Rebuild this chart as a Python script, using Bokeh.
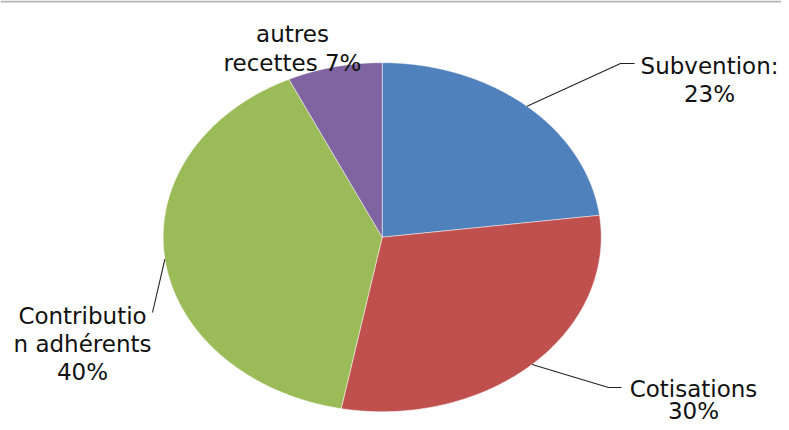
import numpy as np
from bokeh.plotting import figure
from bokeh.models import Range1d, Span, ColumnDataSource
from bokeh.core.properties import value
from bokeh.embed import file_html
from bokeh.resources import INLINE

# ---- data ----
categories = ["Subvention:", "Cotisations", "Contribution adhérents", "autres recettes"]
percents = [23, 30, 40, 7]
colors = ["#4F81BD", "#C0504D", "#9BBB59", "#8064A2"]
# label text lines (wrapped as in the picture)
label_lines = [
    ["Subvention:", "23%"],
    ["Cotisations", "30%"],
    ["Contributio", "n adhérents", "40%"],
    ["autres", "recettes 7%"],
]

# ---- layout (pixel space of the picture) ----
CX, CY, RX, RY = 381.7, 236.7, 219.0, 174.5
label_pos = [  # (center x, first baseline, line step)
    (709, 65, 28),
    (693, 388, 22),
    (82, 315, 28),
    (292, 33, 29),
]
leader_elbows = [
    [(620, 63), (634, 63)],
    [(608, 387), (621, 387)],
    [(152, 312)],
    None,
]

p = figure(width=781, height=422, x_range=Range1d(0, 781), y_range=Range1d(422, 0),
           output_backend="svg", toolbar_location=None, min_border=0)
p.axis.visible = False
p.grid.visible = False
p.outline_line_color = None
p.background_fill_color = "white"
p.border_fill_color = "white"

total = float(sum(percents))
fr = np.cumsum([0] + percents) / total
xs, ys = [], []
for i in range(len(percents)):
    th = np.linspace(fr[i], fr[i + 1], 200) * 2 * np.pi
    xs.append([CX] + list(CX + RX * np.sin(th)) + [CX])
    ys.append([CY] + list(CY - RY * np.cos(th)) + [CY])
src = ColumnDataSource(dict(xs=xs, ys=ys, color=colors, cat=categories))
p.patches("xs", "ys", fill_color="color", line_color="white", line_width=0.8,
          line_alpha=0.6, source=src)

# leader lines from slice mid-angles
for i, elb in enumerate(leader_elbows):
    if not elb:
        continue
    mid = (fr[i] + fr[i + 1]) / 2 * 2 * np.pi
    sx, sy = CX + RX * np.sin(mid), CY - RY * np.cos(mid)
    lx = [sx] + [e[0] for e in elb]
    ly = [sy] + [e[1] for e in elb]
    p.line(lx, ly, line_color="#222222", line_width=1.1)

# labels
tx, ty, tt = [], [], []
for lines, (x0, y0, step) in zip(label_lines, label_pos):
    for k, t in enumerate(lines):
        tx.append(x0)
        ty.append(y0 + k * step)
        tt.append(t)
p.text(x=tx, y=ty, text=tt, text_align="center", text_baseline="alphabetic",
       text_font=value("DejaVu Sans"), text_font_size="23px", text_color="#111111")

p.add_layout(Span(location=1, dimension="width", line_color="#B4B4B4", line_width=2))

open("out.html", "w").write(file_html(p, INLINE))
